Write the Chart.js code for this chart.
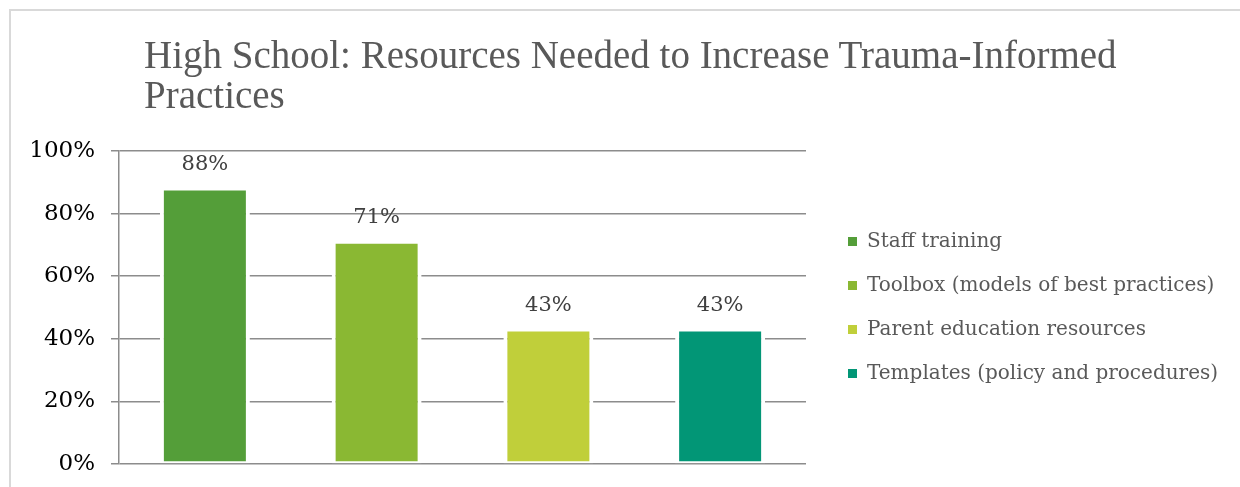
<!DOCTYPE html>
<html>
<head>
<meta charset="utf-8">
<script src="https://cdn.jsdelivr.net/npm/chart.js@4"></script>
<style>
  html, body { margin: 0; padding: 0; background: #ffffff; width: 1240px; height: 487px; overflow: hidden; }
  #frame { position: absolute; left: 9px; top: 9px; width: 1300px; height: 600px;
           border-top: 2px solid #d9d9d9; border-left: 2px solid #d9d9d9; box-sizing: border-box; }
  #title { position: absolute; left: 144px; top: 35px; margin: 0; font-family: "Liberation Serif", serif;
           font-weight: normal; font-size: 39px; line-height: 40px; color: #595959; white-space: nowrap; }
  #wrap { position: absolute; left: 0; top: 0; width: 1240px; height: 487px; }
</style>
</head>
<body>
<div id="frame"></div>
<div id="wrap"><canvas id="c" width="1240" height="487"></canvas></div>
<h1 id="title">High School: Resources Needed to Increase Trauma-Informed<br>Practices</h1>
<script>
// ---- data ----
const categories = ['High School'];
const seriesNames = ['Staff training', 'Toolbox (models of best practices)', 'Parent education resources', 'Templates (policy and procedures)'];
const seriesValues = [88, 71, 43, 43];
const seriesColors = ['#549E39', '#8AB833', '#C0CF3A', '#029676'];
const dataLabels = ['88%', '71%', '43%', '43%'];
const yTickValues = [0, 20, 40, 60, 80, 100];
const yTickLabels = ['0%', '20%', '40%', '60%', '80%', '100%'];

// ---- layout helpers ----
const PLOT_RIGHT = 806;
const LEGEND_BOX_X = 848;
const LEGEND_FONT = { family: 'DejaVu Serif', size: 20 };
const LEGEND_PAD = 24, LEGEND_BOX = 9;
const mctx = document.createElement('canvas').getContext('2d');
mctx.font = LEGEND_FONT.size + 'px "' + LEGEND_FONT.family + '"';
let maxW = 0;
seriesNames.forEach(n => { maxW = Math.max(maxW, mctx.measureText(n).width); });
const legendWidth = LEGEND_PAD + LEGEND_BOX + LEGEND_FONT.size / 2 + maxW + 10;
const padRight = Math.max(0, 1240 - PLOT_RIGHT - legendWidth);
const legendShift = LEGEND_BOX_X - (PLOT_RIGHT + LEGEND_PAD);

const datasets = seriesNames.map((name, i) => ({
  label: name,
  data: [seriesValues[i]],
  backgroundColor: seriesColors[i],
  borderColor: '#ffffff',
  borderWidth: { top: 2, bottom: 2, left: 4, right: 4 },
  borderSkipped: false,
  categoryPercentage: 1.0,
  barPercentage: 0.524
}));

const valueLabelPlugin = {
  id: 'valueLabels',
  afterDatasetsDraw(chart) {
    const ctx = chart.ctx;
    ctx.save();
    ctx.font = '21px "DejaVu Serif"';
    ctx.fillStyle = '#404040';
    ctx.textAlign = 'center';
    ctx.textBaseline = 'middle';
    chart.data.datasets.forEach((ds, i) => {
      const meta = chart.getDatasetMeta(i);
      meta.data.forEach(el => {
        ctx.fillText(dataLabels[i], el.x, el.y - 24);
      });
    });
    ctx.restore();
  }
};

const legendShiftPlugin = {
  id: 'legendShift',
  afterLayout(chart) {
    if (chart.legend) {
      chart.legend.left += legendShift;
      chart.legend.right += legendShift;
    }
  }
};

new Chart(document.getElementById('c'), {
  type: 'bar',
  data: { labels: categories, datasets: datasets },
  options: {
    responsive: false,
    animation: false,
    devicePixelRatio: 1,
    layout: { padding: { top: 151, bottom: 23, left: 9, right: padRight } },
    scales: {
      x: { display: false },
      y: {
        min: 0, max: 100,
        afterFit(scale) { scale.width = 110; scale.paddingTop = 12; scale.paddingBottom = 12; },
        afterBuildTicks(scale) { scale.ticks = yTickValues.map(v => ({ value: v })); },
        ticks: {
          callback: (v) => yTickLabels[yTickValues.indexOf(v)],
          color: '#000000',
          padding: 16,
          font: { family: 'DejaVu Serif', size: 23 }
        },
        grid: { color: '#8c8c8c', lineWidth: 1.5, tickLength: 8, drawTicks: true },
        border: { display: true, color: '#8c8c8c', width: 1.5 }
      }
    },
    plugins: {
      title: { display: false },
      tooltip: { enabled: false },
      legend: {
        display: true,
        position: 'right',
        align: 'center',
        maxWidth: 700,
        labels: {
          boxWidth: LEGEND_BOX,
          boxHeight: LEGEND_BOX,
          padding: LEGEND_PAD,
          color: '#595959',
          font: LEGEND_FONT,
          generateLabels: (chart) => Chart.defaults.plugins.legend.labels.generateLabels(chart)
            .map(l => Object.assign({}, l, { lineWidth: 0, strokeStyle: l.fillStyle }))
        }
      }
    }
  },
  plugins: [valueLabelPlugin, legendShiftPlugin]
});
</script>
</body>
</html>
